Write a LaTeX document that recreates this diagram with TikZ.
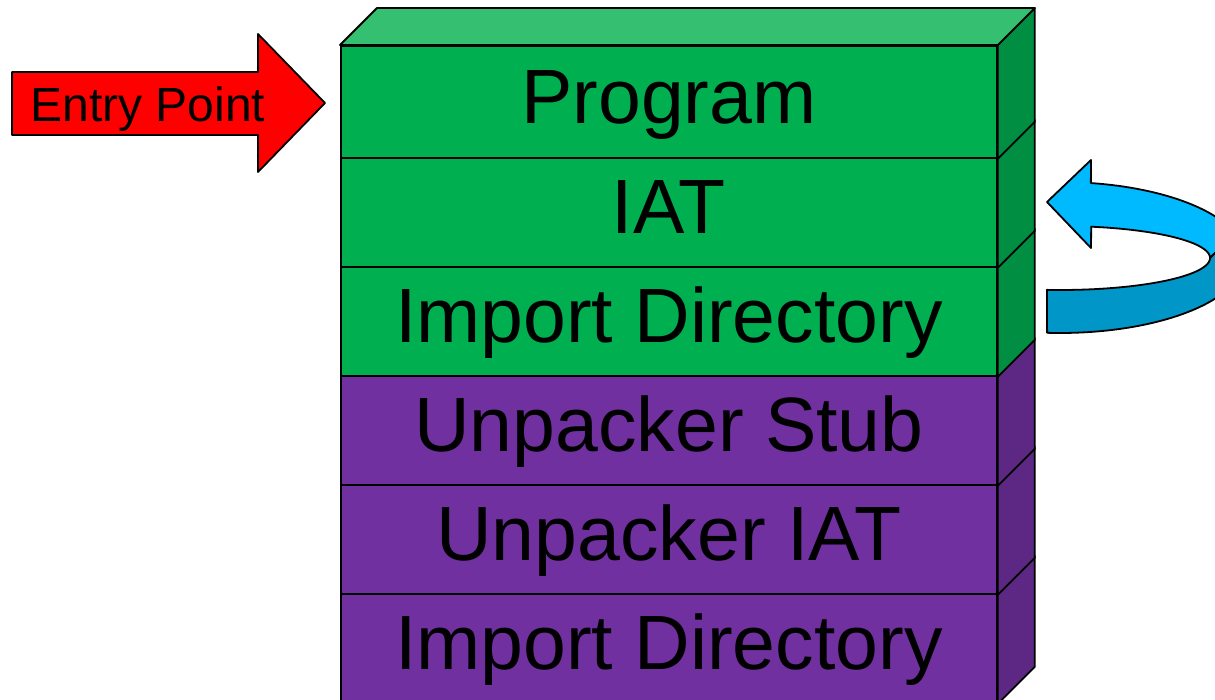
\documentclass[tikz,border=0pt]{standalone}
\usepackage{fontspec}
\setmainfont{Liberation Sans}
\usetikzlibrary{calc}

\definecolor{greenfront}{RGB}{0,176,80}
\definecolor{greentop}{RGB}{52,192,112}
\definecolor{greenside}{RGB}{0,142,66}
\definecolor{purplefront}{RGB}{112,48,160}
\definecolor{purpleside}{RGB}{92,40,132}
\definecolor{bluelight}{RGB}{0,186,255}
\definecolor{bluedark}{RGB}{0,150,200}
\definecolor{entryred}{RGB}{255,0,0}

\begin{document}
\begin{tikzpicture}[x=1pt, y=-1pt, line width=1.8pt, line join=round,
  layer/.style={draw=black, minimum width=656pt, inner sep=0pt,
    anchor=north west, text height=49pt, text depth=6pt,
    font=\fontsize{77}{80}\selectfont},
  greenlayer/.style={layer, fill=greenfront},
  purplelayer/.style={layer, fill=purplefront},
  outline/.style={draw=black, line width=1.8pt}]

\useasboundingbox (0,0) rectangle (1215,700);
\clip (0,0) rectangle (1215,700);

% front faces of the stacked sections
\node[greenlayer, minimum height=112pt] (prog) at (340,45) {Program};
\node[greenlayer, minimum height=109pt] (iat) at (340,157) {IAT};
\node[greenlayer, minimum height=109pt] (imp) at (340,266) {Import Directory};
\node[purplelayer, minimum height=109pt] (stub) at (340,375) {Unpacker Stub};
\node[purplelayer, minimum height=109pt] (uiat) at (340,484) {Unpacker IAT};
\node[purplelayer, minimum height=109pt] (imp2) at (340,593) {Import Directory};

% right-hand side faces, bottom section first
\foreach \n/\c in {imp2/purpleside, uiat/purpleside, stub/purpleside,
                   imp/greenside, iat/greenside, prog/greenside}
  \draw[outline, fill=\c] (\n.north east) -- ++(37,-37)
    -- ($(\n.south east)+(37,-37)$) -- (\n.south east) -- cycle;

% top face of the stack
\draw[outline, fill=greentop] (prog.north west) -- ++(37,-37)
  -- ($(prog.north east)+(37,-37)$) -- (prog.north east) -- cycle;

% entry point block arrow
\draw[outline, fill=entryred] (12,72) -- (258,72) -- (258,34) -- (325,103)
  -- (258,172) -- (258,135) -- (12,135) -- cycle;
\node[font=\fontsize{48}{52}\selectfont, anchor=base, inner sep=0pt]
  (entry) at (148,122) {Entry Point};

% curved block arrow: upper band with head
\draw[outline, fill=bluelight] (1047,202) -- (1091,160)
  -- plot[domain=-80.4:-18.9, samples=60, variable=\t]
       ({1060+185*cos(\t)},{257.5+75.5*sin(\t)})
  -- plot[domain=0:-78, samples=60, variable=\t]
       ({1060+150*cos(\t)},{258+32*sin(\t)})
  -- (1091,248) -- cycle;

% curved block arrow: lower band in front
\draw[outline, fill=bluedark]
  plot[domain=-18.9:94, samples=80, variable=\t]
       ({1060+185*cos(\t)},{257.5+75.5*sin(\t)})
  -- plot[domain=95:0, samples=80, variable=\t]
       ({1060+150*cos(\t)},{258+32*sin(\t)})
  -- cycle;

\end{tikzpicture}
\end{document}
